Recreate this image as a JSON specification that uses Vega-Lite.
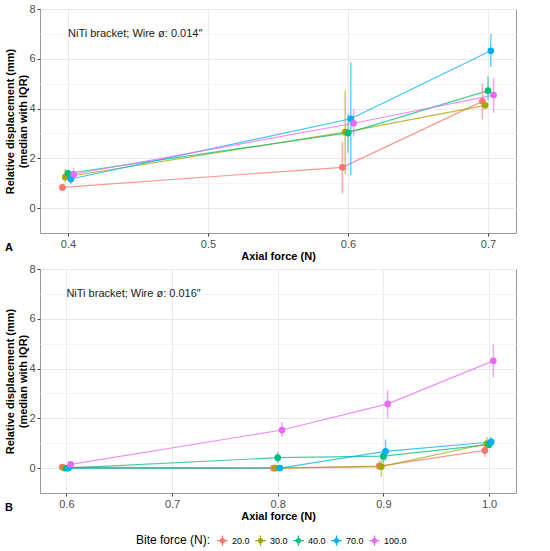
{
  "$schema": "https://vega.github.io/schema/vega-lite/v6.json",
  "padding": {"left": 4, "top": 2, "right": 5, "bottom": 2},
  "datasets": {
    "disp": [
      {"panel": "A", "bite": "20.0", "force": 0.4, "xpos": 0.396, "median": 0.83, "lo": 0.72, "hi": 0.95},
      {"panel": "A", "bite": "20.0", "force": 0.6, "xpos": 0.596, "median": 1.64, "lo": 0.59, "hi": 2.67},
      {"panel": "A", "bite": "20.0", "force": 0.7, "xpos": 0.696, "median": 4.29, "lo": 3.56, "hi": 5.0},
      {"panel": "A", "bite": "30.0", "force": 0.4, "xpos": 0.398, "median": 1.25, "lo": 1.03, "hi": 1.57},
      {"panel": "A", "bite": "30.0", "force": 0.6, "xpos": 0.598, "median": 3.05, "lo": 1.37, "hi": 4.73},
      {"panel": "A", "bite": "30.0", "force": 0.7, "xpos": 0.698, "median": 4.13, "lo": 4.0, "hi": 4.26},
      {"panel": "A", "bite": "40.0", "force": 0.4, "xpos": 0.4, "median": 1.4, "lo": 1.25, "hi": 1.55},
      {"panel": "A", "bite": "40.0", "force": 0.6, "xpos": 0.6, "median": 3.02, "lo": 2.22, "hi": 3.79},
      {"panel": "A", "bite": "40.0", "force": 0.7, "xpos": 0.7, "median": 4.72, "lo": 4.33, "hi": 5.3},
      {"panel": "A", "bite": "70.0", "force": 0.4, "xpos": 0.402, "median": 1.17, "lo": 0.95, "hi": 1.35},
      {"panel": "A", "bite": "70.0", "force": 0.6, "xpos": 0.602, "median": 3.59, "lo": 1.33, "hi": 5.85},
      {"panel": "A", "bite": "70.0", "force": 0.7, "xpos": 0.702, "median": 6.32, "lo": 5.67, "hi": 7.0},
      {"panel": "A", "bite": "100.0", "force": 0.4, "xpos": 0.404, "median": 1.36, "lo": 1.15, "hi": 1.6},
      {"panel": "A", "bite": "100.0", "force": 0.6, "xpos": 0.604, "median": 3.41, "lo": 2.88, "hi": 3.99},
      {"panel": "A", "bite": "100.0", "force": 0.7, "xpos": 0.704, "median": 4.54, "lo": 3.83, "hi": 5.23},
      {"panel": "B", "bite": "20.0", "force": 0.6, "xpos": 0.596, "median": 0.04, "lo": 0.0, "hi": 0.08},
      {"panel": "B", "bite": "20.0", "force": 0.8, "xpos": 0.796, "median": 0.0, "lo": -0.02, "hi": 0.02},
      {"panel": "B", "bite": "20.0", "force": 0.9, "xpos": 0.896, "median": 0.08, "lo": -0.05, "hi": 0.3},
      {"panel": "B", "bite": "20.0", "force": 1.0, "xpos": 0.996, "median": 0.71, "lo": 0.45, "hi": 0.95},
      {"panel": "B", "bite": "30.0", "force": 0.6, "xpos": 0.598, "median": 0.0, "lo": 0.0, "hi": 0.0},
      {"panel": "B", "bite": "30.0", "force": 0.8, "xpos": 0.798, "median": 0.0, "lo": 0.0, "hi": 0.0},
      {"panel": "B", "bite": "30.0", "force": 0.9, "xpos": 0.898, "median": 0.06, "lo": -0.35, "hi": 0.35},
      {"panel": "B", "bite": "30.0", "force": 1.0, "xpos": 0.998, "median": 0.98, "lo": 0.8, "hi": 1.25},
      {"panel": "B", "bite": "40.0", "force": 0.6, "xpos": 0.6, "median": 0.0, "lo": 0.0, "hi": 0.0},
      {"panel": "B", "bite": "40.0", "force": 0.8, "xpos": 0.8, "median": 0.42, "lo": 0.2, "hi": 0.65},
      {"panel": "B", "bite": "40.0", "force": 0.9, "xpos": 0.9, "median": 0.48, "lo": 0.2, "hi": 0.75},
      {"panel": "B", "bite": "40.0", "force": 1.0, "xpos": 1.0, "median": 0.94, "lo": 0.8, "hi": 1.1},
      {"panel": "B", "bite": "70.0", "force": 0.6, "xpos": 0.602, "median": 0.0, "lo": 0.0, "hi": 0.0},
      {"panel": "B", "bite": "70.0", "force": 0.8, "xpos": 0.802, "median": 0.0, "lo": 0.0, "hi": 0.0},
      {"panel": "B", "bite": "70.0", "force": 0.9, "xpos": 0.902, "median": 0.67, "lo": 0.3, "hi": 1.15},
      {"panel": "B", "bite": "70.0", "force": 1.0, "xpos": 1.002, "median": 1.05, "lo": 0.85, "hi": 1.25},
      {"panel": "B", "bite": "100.0", "force": 0.6, "xpos": 0.604, "median": 0.15, "lo": 0.1, "hi": 0.2},
      {"panel": "B", "bite": "100.0", "force": 0.8, "xpos": 0.804, "median": 1.53, "lo": 1.25, "hi": 1.85},
      {"panel": "B", "bite": "100.0", "force": 0.9, "xpos": 0.904, "median": 2.58, "lo": 2.0, "hi": 3.12},
      {"panel": "B", "bite": "100.0", "force": 1.0, "xpos": 1.004, "median": 4.31, "lo": 3.65, "hi": 4.97}
    ],
    "notes": [
      {"panel": "A", "xpos": 0.4, "median": 7, "note": "NiTi bracket; Wire ø: 0.014″"},
      {"panel": "B", "xpos": 0.6, "median": 7, "note": "NiTi bracket; Wire ø: 0.016″"}
    ]
  },
  "vconcat": [
    {
      "width": 476,
      "height": 224,
      "title": {"text": "A", "orient": "bottom", "anchor": "start", "frame": "bounds", "offset": -19, "fontSize": 11, "fontWeight": "bold"},
      "data": {"name": "disp"},
      "transform": [{"filter": "datum.panel == 'A'"}],
      "encoding": {
        "x": {
          "field": "xpos", "type": "quantitative", "title": "Axial force (N)",
          "scale": {"domain": [0.38, 0.72], "nice": false, "zero": false},
          "axis": {"values": [0.4, 0.5, 0.6, 0.7], "format": ".1f"}
        },
        "y": {
          "field": "median", "type": "quantitative",
          "title": ["Relative displacement (mm)", "(median with IQR)"],
          "scale": {"domain": [-1, 8], "nice": false, "zero": false},
          "axis": {"values": [0, 1, 2, 3, 4, 5, 6, 7, 8]}
        },
        "color": {
          "field": "bite", "type": "nominal", "title": "Bite force (N):",
          "sort": ["20.0", "30.0", "40.0", "70.0", "100.0"],
          "scale": {"range": ["#F8766D", "#A3A500", "#00BF7D", "#00B0F6", "#E76BF3"]}
        }
      },
      "layer": [
        {"mark": {"type": "line", "strokeWidth": 1.2, "opacity": 0.75}},
        {"mark": {"type": "rule", "strokeWidth": 1.5, "opacity": 0.6}, "encoding": {"y": {"field": "lo", "type": "quantitative"}, "y2": {"field": "hi"}}},
        {"mark": {"type": "point", "filled": true, "size": 45, "opacity": 1}},
        {
          "data": {"name": "notes"},
          "transform": [{"filter": "datum.panel == 'A'"}],
          "mark": {"type": "text", "align": "left", "baseline": "middle", "fontSize": 11, "color": "#1a1a1a"},
          "encoding": {"text": {"field": "note"}, "color": null}
        }
      ]
    },
    {
      "width": 476,
      "height": 224,
      "title": {"text": "B", "orient": "bottom", "anchor": "start", "frame": "bounds", "offset": -19, "fontSize": 11, "fontWeight": "bold"},
      "data": {"name": "disp"},
      "transform": [{"filter": "datum.panel == 'B'"}],
      "encoding": {
        "x": {
          "field": "xpos", "type": "quantitative", "title": "Axial force (N)",
          "scale": {"domain": [0.575, 1.0255], "nice": false, "zero": false},
          "axis": {"values": [0.6, 0.7, 0.8, 0.9, 1.0], "format": ".1f"}
        },
        "y": {
          "field": "median", "type": "quantitative",
          "title": ["Relative displacement (mm)", "(median with IQR)"],
          "scale": {"domain": [-1, 8], "nice": false, "zero": false},
          "axis": {"values": [0, 1, 2, 3, 4, 5, 6, 7, 8]}
        },
        "color": {
          "field": "bite", "type": "nominal", "title": "Bite force (N):",
          "sort": ["20.0", "30.0", "40.0", "70.0", "100.0"],
          "scale": {"range": ["#F8766D", "#A3A500", "#00BF7D", "#00B0F6", "#E76BF3"]}
        }
      },
      "layer": [
        {"mark": {"type": "line", "strokeWidth": 1.2, "opacity": 0.75}},
        {"mark": {"type": "rule", "strokeWidth": 1.5, "opacity": 0.6}, "encoding": {"y": {"field": "lo", "type": "quantitative"}, "y2": {"field": "hi"}}},
        {"mark": {"type": "point", "filled": true, "size": 45, "opacity": 1}},
        {
          "data": {"name": "notes"},
          "transform": [{"filter": "datum.panel == 'B'"}],
          "mark": {"type": "text", "align": "left", "baseline": "middle", "fontSize": 11, "color": "#1a1a1a"},
          "encoding": {"text": {"field": "note"}, "color": null}
        }
      ]
    }
  ],
  "spacing": 0,
  "resolve": {"scale": {"x": "independent", "y": "independent", "color": "shared"}},
  "config": {
    "font": "Liberation Sans",
    "view": {"stroke": "#9a9a9a", "strokeWidth": 1},
    "axis": {
      "domain": false,
      "tickSize": 3,
      "labelColor": "#4d4d4d",
      "labelFontSize": 11,
      "labelPadding": 2,
      "titleFontSize": 11,
      "titleFontWeight": "bold",
      "titleColor": "#000000",
      "gridColor": "#ebebeb",
      "gridWidth": 1
    },
    "axisY": {
      "titlePadding": 0,
      "labelExpr": "datum.value % 2 == 0 ? datum.label : ''",
      "gridColor": {"condition": {"test": "datum.value % 2 == 0", "value": "#e8e8e8"}, "value": "#f4f4f4"},
      "tickColor": {"condition": {"test": "datum.value % 2 == 0", "value": "#444444"}, "value": "transparent"}
    },
    "axisX": {"titlePadding": 1, "tickColor": "#444444"},
    "legend": {
      "orient": "none",
      "legendX": 96,
      "legendY": 526,
      "direction": "horizontal",
      "titleOrient": "left",
      "titleFontSize": 12,
      "titleFontWeight": "normal",
      "titleColor": "#000000",
      "titlePadding": 6,
      "labelFontSize": 9,
      "labelColor": "#000000",
      "labelOffset": 4,
      "symbolType": "M-1,-0.12H1V0.12H-1Z M-0.12,-1H0.12V1H-0.12Z M0.5,0A0.5,0.5 0 1 1 -0.5,0A0.5,0.5 0 1 1 0.5,0Z",
      "symbolSize": 110,
      "symbolStrokeWidth": 0,
      "symbolOpacity": 1,
      "columnPadding": 5
    }
  }
}
